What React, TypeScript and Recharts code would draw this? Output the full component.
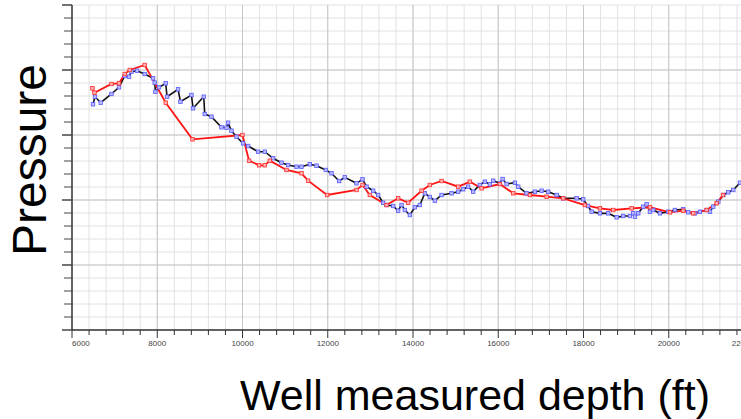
import React from 'react';
import {
  LineChart,
  Line,
  XAxis,
  YAxis,
  CartesianGrid,
  ReferenceLine,
  Label
} from 'recharts';

// measured depth (ft) / pressure, simulated curve (black, blue markers)
const simDepth = [
  6493, 6540, 6674, 6925, 7103, 7237, 7338, 7394, 7526, 7706, 7901, 7941, 7957, 8042, 8199, 8230,
  8488, 8544, 8802, 8840, 9091, 9114, 9272, 9506, 9624, 9661, 9741, 9859, 10013, 10131, 10366,
  10523, 10718, 10915, 11070, 11267, 11384, 11579, 11736, 11954, 12088, 12267, 12400, 12675,
  12816, 12910, 13065, 13182, 13299, 13379, 13534, 13651, 13731, 13809, 13926, 14043, 14161,
  14278, 14395, 14513, 14670, 14905, 15060, 15177, 15294, 15412, 15569, 15686, 15803, 15881,
  16039, 16102, 16196, 16391, 16468, 16665, 16860, 17017, 17172, 17369, 17524, 17838, 17993,
  18104, 18191, 18386, 18580, 18778, 18932, 19089, 19167, 19207, 19284, 19401, 19481, 19559,
  19636, 19793, 19988, 20145, 20340, 20457, 20615, 20732, 20889, 20967, 21044, 21162, 21279,
  21396, 21514, 21671
];
const simPressure = [
  3472, 3589, 3497, 3631, 3734, 3908, 3897, 3974, 3989, 3938, 3872, 3805, 3666, 3734, 3795, 3589,
  3703, 3512, 3615, 3411, 3589, 3323, 3282, 3118, 3112, 3189, 3066, 2974, 2872, 2831, 2743,
  2743, 2642, 2574, 2538, 2512, 2512, 2549, 2528, 2462, 2411, 2292, 2349, 2257,
  2318, 2205, 2143, 2077, 1958, 1923, 1908, 1835, 1923, 1846, 1769, 1888, 1923,
  2103, 2046, 1989, 2077, 2103, 2128, 2165, 2205, 2128, 2231, 2282, 2242, 2297,
  2257, 2323, 2246, 2266, 2205, 2103, 2128, 2143, 2128, 2077, 2026, 2026, 2011,
  1908, 1820, 1795, 1795, 1734, 1754, 1754, 1795, 1743, 1795, 1897, 1934, 1820,
  1846, 1795, 1820, 1846, 1857, 1811, 1795, 1820, 1846, 1820, 1897, 1974, 2077,
  2118, 2154, 2266
];

// measured curve (red)
const obsDepth = [
  6479, 6526, 6925, 7103, 7237, 7354, 7706, 8199, 8826, 9999, 10154, 10389, 10523, 10640, 11032,
  11384, 11539, 11985, 12675, 12816, 12987, 13379, 13651, 13886, 14201, 14395, 14670, 15060,
  15334, 15609, 16039, 16351, 16743, 17134, 17524, 18033, 18386, 18698, 19129, 19559, 20028,
  20340, 20575, 20889, 21124, 21272
];
const obsPressure = [
  3718, 3651, 3785, 3795, 3938, 4000, 4077, 3497, 2934, 3000, 2605, 2534, 2534, 2605, 2462,
  2411, 2297, 2077, 2154, 2231, 2077, 1923, 2026, 1958, 2143, 2231, 2292, 2205,
  2282, 2180, 2246, 2103, 2077, 2051, 2026, 1923, 1872, 1846, 1872, 1888, 1811,
  1835, 1795, 1846, 1949, 2077
];

const xMajor = [6000, 8000, 10000, 12000, 14000, 16000, 18000, 20000, 22000];
const yMajor = [0, 1000, 2000, 3000, 4000, 5000];
const xTicks: number[] = [];
for (let v = 6000; v <= 22000; v += 400) xTicks.push(v);
const yTicks: number[] = [];
for (let v = 0; v <= 5000; v += 200) yTicks.push(v);

const simData = simDepth.map((d, i) => ({ depth: d, pressure: simPressure[i] }));
const obsData = obsDepth.map((d, i) => ({ depth: d, pressure: obsPressure[i] }));

const FONT = '"Liberation Sans", Arial, sans-serif';

const XTick = (props: any) => {
  const { x, y, payload } = props;
  const v = payload.value;
  const major = xMajor.includes(v);
  const anchor = v === 6000 ? 'start' : v === 22000 ? 'end' : 'middle';
  return (
    <g>
      <line x1={x} x2={x} y1={y} y2={y + (major ? 8 : 5)} stroke='#333' strokeWidth={1} />
      {major && (
        <text x={x} y={y + 16} textAnchor={anchor} fontSize={8} fill='#444' fontFamily={FONT}>
          {v}
        </text>
      )}
    </g>
  );
};

const YTick = (props: any) => {
  const { x, y, payload } = props;
  const major = yMajor.includes(payload.value);
  return <line x1={x - (major ? 10 : 8)} x2={x} y1={y} y2={y} stroke='#444' strokeWidth={major ? 1.5 : 1} />;
};

const SimDot = (props: any) => {
  const { cx, cy } = props;
  if (cx == null || cy == null) return null;
  return <rect x={cx - 1.75} y={cy - 1.75} width={3.5} height={3.5} fill='#b8b8ff' stroke='#5a5aff' strokeWidth={0.8} />;
};

const ObsDot = (props: any) => {
  const { cx, cy } = props;
  if (cx == null || cy == null) return null;
  return <rect x={cx - 1.75} y={cy - 1.75} width={3.5} height={3.5} fill='#ffb0b0' stroke='#ff3030' strokeWidth={0.8} />;
};

const XTitle = (props: any) => {
  const { viewBox } = props;
  return (
    <text x={viewBox.x + 403} y={viewBox.y + 80} textAnchor='middle' fontSize={43} fill='#000' fontFamily={FONT}>
      Well measured depth (ft)
    </text>
  );
};

const YTitle = (props: any) => {
  const { viewBox } = props;
  const cx = viewBox.x + 29;
  const cy = 160;
  return (
    <text
      x={cx}
      y={cy}
      textAnchor='middle'
      dominantBaseline='central'
      transform={`rotate(-90, ${cx}, ${cy})`}
      fontSize={48}
      fill='#000'
      fontFamily={FONT}
    >
      Pressure
    </text>
  );
};

export default function App() {
  return (
    <div style={{ position: 'absolute', left: 0, top: 0, width: 741, height: 419, overflow: 'hidden', background: '#fff' }}>
      <LineChart width={754} height={419} margin={{ top: 5, right: 0, bottom: 0, left: 0 }}>
        <CartesianGrid stroke='#e2e2e2' strokeWidth={1} />
        {xMajor.slice(1).map((v) => (
          <ReferenceLine key={'x' + v} x={v} stroke='#c6c6c6' strokeWidth={1} />
        ))}
        {yMajor.slice(1, -1).map((v) => (
          <ReferenceLine key={'y' + v} y={v} stroke='#c6c6c6' strokeWidth={1} />
        ))}
        <XAxis
          type='number'
          dataKey='depth'
          domain={[6000, 22000]}
          ticks={xTicks}
          interval={0}
          allowDataOverflow
          tickSize={0}
          tickMargin={0}
          tick={<XTick />}
          stroke='#333'
          strokeWidth={1.5}
          height={89}
        >
          <Label content={<XTitle />} />
        </XAxis>
        <YAxis
          type='number'
          dataKey='pressure'
          domain={[0, 5000]}
          ticks={yTicks}
          interval={0}
          tickSize={0}
          tickMargin={0}
          tick={<YTick />}
          stroke='#333'
          strokeWidth={1.5}
          width={72}
        >
          <Label content={<YTitle />} />
        </YAxis>
        <Line
          data={simData}
          dataKey='pressure'
          type='linear'
          stroke='#111'
          strokeWidth={1.6}
          dot={<SimDot />}
          activeDot={false}
          isAnimationActive={false}
        />
        <Line
          data={obsData}
          dataKey='pressure'
          type='linear'
          stroke='#ff1414'
          strokeWidth={1.8}
          dot={<ObsDot />}
          activeDot={false}
          isAnimationActive={false}
        />
      </LineChart>
    </div>
  );
}
